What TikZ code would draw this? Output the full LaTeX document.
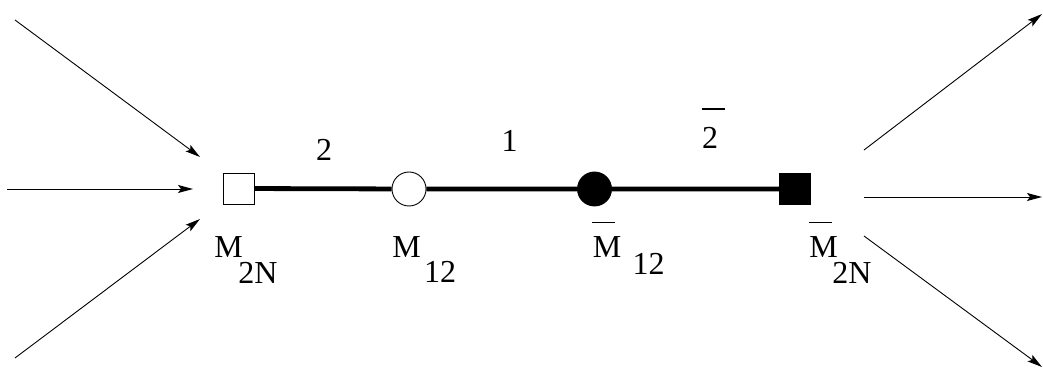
\documentclass[tikz,border=0pt]{standalone}
\usepackage{fontspec}
\setmainfont{Liberation Serif}
\usetikzlibrary{arrows.meta}

\begin{document}
\begin{tikzpicture}[x=0.5pt,y=-0.5pt,line join=miter,
  every node/.style={font=\fontsize{16}{18}\selectfont,inner sep=0pt},
  leg/.style={line width=0.45pt,-{Stealth[length=7.5pt,width=4pt,inset=1.5pt]}},
  vtx/.style={draw,line width=0.45pt,inner sep=0pt},
  bar/.style={line width=0.6pt}]
  \useasboundingbox (0,0) rectangle (1043,373);
  % vertices on the line
  \node[vtx,rectangle,minimum size=15.5pt] (sqL) at (238.5,188.5) {};
  \node[vtx,circle,minimum size=17pt] (ciL) at (409,189) {};
  \node[vtx,circle,fill,minimum size=17pt] (ciR) at (594.5,189) {};
  \node[vtx,rectangle,fill,minimum size=15.5pt] (sqR) at (795,189) {};
  \draw[line width=2.4pt] (sqL) -- (ciL) -- (ciR) -- (sqR);
  % edge labels
  \node (e2) at (324,150) {2};
  \node (e1) at (509.5,141) {1};
  \node (e2b) at (710,138) {2};
  \draw[bar] ([yshift=9pt]e2b.north west) -- +(11.5pt,0);
  % vertex labels
  \node (mA) at (228.5,247.5) {M};
  \node (mAs) at (258,273) {2N};
  \node (mB) at (406.5,247.5) {M};
  \node (mBs) at (440,272) {12};
  \node (mC) at (607,247.5) {M};
  \node (mCs) at (648.5,264) {12};
  \draw[bar] ([yshift=7pt]mC.north west) -- +(11.5pt,0);
  \node (mD) at (823.5,247.5) {M};
  \node (mDs) at (852,273) {2N};
  \draw[bar] ([yshift=7pt]mD.north west) -- +(11.5pt,0);
  % incoming legs
  \coordinate (i1) at (15,20);
  \coordinate (i2) at (7,189);
  \coordinate (i3) at (15,358);
  \coordinate (j1) at (200,157);
  \coordinate (j2) at (193,189);
  \coordinate (j3) at (200,219);
  \draw[leg] (i1) -- (j1);
  \draw[leg] (i2) -- (j2);
  \draw[leg] (i3) -- (j3);
  % outgoing legs
  \coordinate (o1) at (864,150);
  \coordinate (o2) at (864,197);
  \coordinate (o3) at (864,236);
  \coordinate (p1) at (1042,14);
  \coordinate (p2) at (1042,197);
  \coordinate (p3) at (1042,367);
  \draw[leg] (o1) -- (p1);
  \draw[leg] (o2) -- (p2);
  \draw[leg] (o3) -- (p3);
\end{tikzpicture}
\end{document}
